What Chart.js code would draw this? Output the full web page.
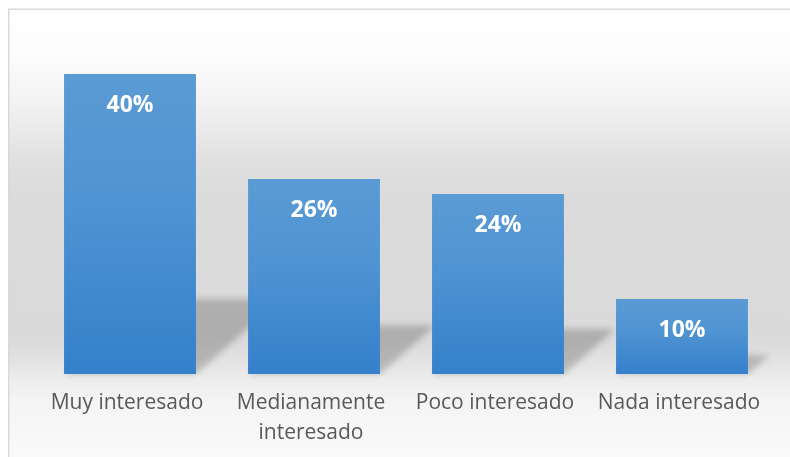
<!DOCTYPE html>
<html>
<head>
<meta charset="utf-8">
<script src="https://cdn.jsdelivr.net/npm/chart.js@4.4.1/dist/chart.umd.min.js"></script>
<style>
  html, body { margin: 0; padding: 0; background: #ffffff; }
  #wrap { width: 790px; height: 457px; position: relative; }
</style>
</head>
<body>
<div id="wrap"><canvas id="c" width="790" height="457"></canvas></div>
<script>
const categories = ["Muy interesado", ["Medianamente", "interesado"], "Poco interesado", "Nada interesado"];
const values = [40, 26, 24, 10];
const valueLabels = ["40%", "26%", "24%", "10%"];

const bgPlugin = {
  id: 'bg',
  beforeDraw(chart) {
    const c = chart.ctx;
    c.save();
    c.fillStyle = '#ffffff';
    c.fillRect(0, 0, chart.width, chart.height);
    const g = c.createLinearGradient(0, 9, 0, 457);
    const H = 448;
    const stop = (y, col) => g.addColorStop(Math.min(1, Math.max(0, (y - 9) / H)), col);
    stop(9, '#ffffff');
    stop(50, '#fdfdfd');
    stop(100, '#f3f3f3');
    stop(130, '#eaeaea');
    stop(165, '#dfdfdf');
    stop(200, '#dbdbdb');
    stop(340, '#dadada');
    stop(360, '#e2e2e2');
    stop(378, '#ececec');
    stop(400, '#f4f4f4');
    stop(457, '#fafafa');
    c.fillStyle = g;
    c.fillRect(9, 10, chart.width, chart.height);
    c.strokeStyle = '#d9d9d9';
    c.lineWidth = 1.5;
    c.beginPath();
    c.moveTo(8.75, chart.height + 5);
    c.lineTo(8.75, 9.25);
    c.lineTo(chart.width + 5, 9.25);
    c.stroke();
    c.restore();
  },
  beforeDatasetsDraw(chart) {
    const c = chart.ctx;
    const meta = chart.getDatasetMeta(0);
    c.save();
    c.filter = 'blur(3px)';
    c.fillStyle = 'rgba(0,0,0,0.2)';
    meta.data.forEach(bar => {
      const p = bar.getProps(['x', 'y', 'width', 'base'], true);
      const left = p.x - p.width / 2;
      const h = p.base - p.y;
      const s = 0.25;
      const k = 1.14 * s;
      c.save();
      c.translate(left, p.base);
      c.transform(1, 0, -k, s, 0, 0);
      c.fillRect(0, -h, p.width, h);
      c.restore();
    });
    c.restore();
  },
  afterDatasetsDraw(chart) {
    const c = chart.ctx;
    const meta = chart.getDatasetMeta(0);
    c.save();
    c.fillStyle = '#ffffff';
    c.font = 'bold 23px "Open Sans"';
    c.textAlign = 'center';
    c.textBaseline = 'middle';
    meta.data.forEach((bar, i) => {
      const p = bar.getProps(['x', 'y'], true);
      c.fillText(valueLabels[i], p.x, p.y + 31);
    });
    c.restore();
  }
};

const ctx = document.getElementById('c').getContext('2d');
new Chart(ctx, {
  type: 'bar',
  data: {
    labels: categories,
    datasets: [{
      data: values,
      backgroundColor(context) {
        const chart = context.chart;
        const ys = chart.scales.y;
        if (!ys || !chart.chartArea) return '#4a90d0';
        const top = ys.getPixelForValue(context.raw);
        const base = ys.getPixelForValue(0);
        const g = chart.ctx.createLinearGradient(0, top, 0, base);
        g.addColorStop(0, '#5b9bd5');
        g.addColorStop(0.45, '#4e93d2');
        g.addColorStop(1, '#3580cb');
        return g;
      },
      borderWidth: 0,
      barPercentage: 0.717,
      categoryPercentage: 1.0
    }]
  },
  options: {
    responsive: false,
    animation: false,
    devicePixelRatio: 1,
    layout: { padding: { top: 36.5, left: 38, right: 16, bottom: 0 } },
    plugins: { legend: { display: false }, tooltip: { enabled: false } },
    scales: {
      y: { display: false, min: 0, max: 45 },
      x: {
        grid: { display: false, drawTicks: false },
        border: { display: false },
        ticks: {
          color: '#595959',
          font: { family: 'Open Sans', size: 21, lineHeight: 1.43 },
          padding: 14,
          labelOffset: -3,
          maxRotation: 0,
          autoSkip: false
        },
        afterFit(scale) { scale.height = 83; }
      }
    }
  },
  plugins: [bgPlugin]
});
</script>
</body>
</html>
